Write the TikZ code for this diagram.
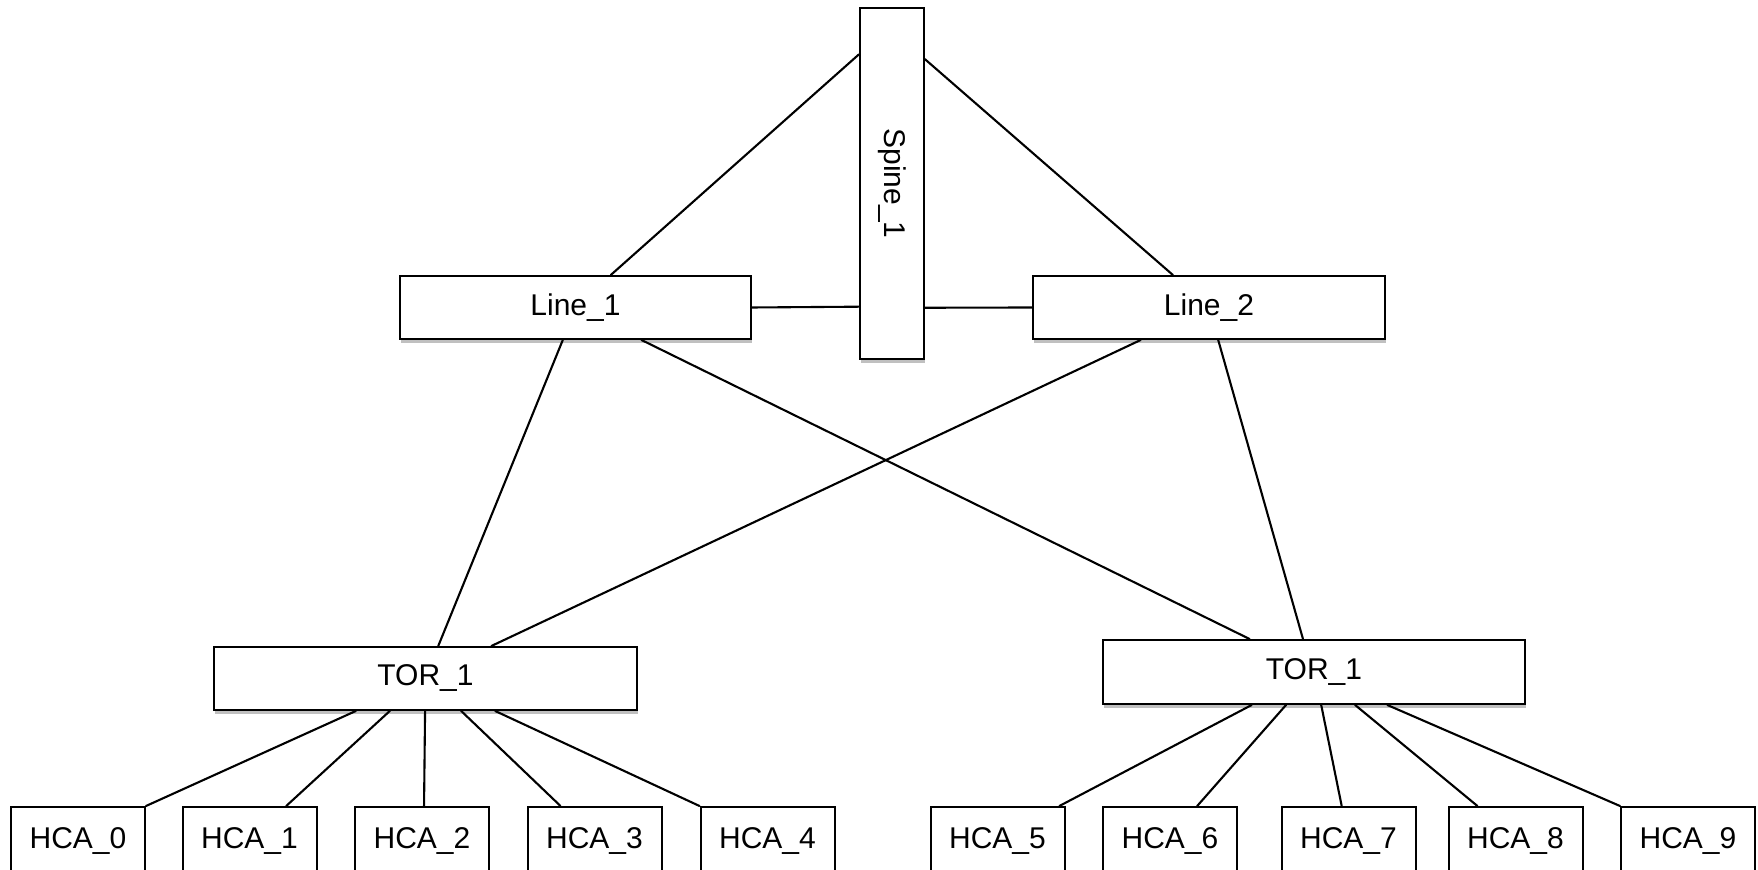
\documentclass[tikz,border=0pt]{standalone}
\usepackage{fontspec}
\setmainfont{Liberation Sans}
\usetikzlibrary{calc,shadows}
\begin{document}
\begin{tikzpicture}[x=0.5pt,y=-0.5pt,
  box/.style={draw=black, line width=1pt, fill=white, inner sep=0pt, font=\fontsize{15}{18}\selectfont,
    drop shadow={shadow xshift=0.5pt, shadow yshift=-2pt, opacity=0.45, fill=black!55}},
  hca/.style={box, minimum width=67pt, minimum height=34pt},
  link/.style={line width=1.05pt, line cap=round}]
\useasboundingbox (0,0) rectangle (1758,870);
\newcommand{\pbot}[2]{($(#1.south west)!#2!(#1.south east)$)}
\newcommand{\ptop}[2]{($(#1.north west)!#2!(#1.north east)$)}
\newcommand{\plft}[2]{($(#1.north west)!#2!(#1.south west)$)}
\newcommand{\prgt}[2]{($(#1.north east)!#2!(#1.south east)$)}

\node[box, minimum width=32pt, minimum height=175.5pt] (spine) at (892,183.5) {\rotatebox{-90}{Spine\_1}};
\node[box, minimum width=175.5pt, minimum height=31.5pt] (line1) at (575.5,307.5) {Line\_1};
\node[box, minimum width=176pt, minimum height=31.5pt] (line2) at (1209,307.5) {Line\_2};
\node[box, minimum width=211.5pt, minimum height=31.5pt] (torA) at (425.5,678.5) {TOR\_1};
\node[box, minimum width=211pt, minimum height=32pt] (torB) at (1314,672) {TOR\_1};

\node[hca, anchor=north] (h0) at (78,806) {HCA\_0};
\node[hca, anchor=north] (h1) at (249.5,806) {HCA\_1};
\node[hca, anchor=north] (h2) at (422,806) {HCA\_2};
\node[hca, anchor=north] (h3) at (594.5,806) {HCA\_3};
\node[hca, anchor=north] (h4) at (767.5,806) {HCA\_4};
\node[hca, anchor=north] (h5) at (997.5,806) {HCA\_5};
\node[hca, anchor=north] (h6) at (1170,806) {HCA\_6};
\node[hca, anchor=north] (h7) at (1348.5,806) {HCA\_7};
\node[hca, anchor=north] (h8) at (1515.5,806) {HCA\_8};
\node[hca, anchor=north] (h9) at (1688,806) {HCA\_9};

% spine links
\draw[link] \plft{spine}{0.134} -- \ptop{line1}{0.60};
\draw[link] \prgt{spine}{0.148} -- \ptop{line2}{0.398};
\draw[link] (line1.east) -- \plft{spine}{0.849};
\draw[link] \prgt{spine}{0.852} -- (line2.west);

% line to tor
\draw[link] \pbot{line1}{0.464} -- \ptop{torA}{0.53};
\draw[link] \pbot{line1}{0.687} -- \ptop{torB}{0.348};
\draw[link] \pbot{line2}{0.307} -- \ptop{torA}{0.655};
\draw[link] \pbot{line2}{0.526} -- \ptop{torB}{0.474};

% tor to hca
\draw[link] \pbot{torA}{0.336} -- (h0.north east);
\draw[link] \pbot{torA}{0.416} -- \ptop{h1}{0.77};
\draw[link] \pbot{torA}{0.499} -- \ptop{h2}{0.515};
\draw[link] \pbot{torA}{0.584} -- \ptop{h3}{0.25};
\draw[link] \pbot{torA}{0.664} -- (h4.north west);

\draw[link] \pbot{torB}{0.353} -- \ptop{h5}{0.955};
\draw[link] \pbot{torB}{0.434} -- \ptop{h6}{0.70};
\draw[link] \pbot{torB}{0.517} -- \ptop{h7}{0.45};
\draw[link] \pbot{torB}{0.597} -- \ptop{h8}{0.22};
\draw[link] \pbot{torB}{0.673} -- (h9.north west);
\end{tikzpicture}
\end{document}
